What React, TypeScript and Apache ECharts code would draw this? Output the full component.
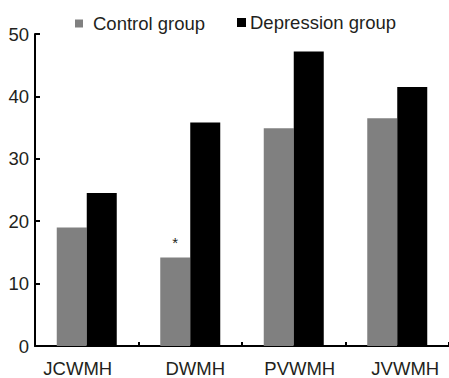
import React, { useEffect, useRef } from "react";
import * as echarts from "echarts";

const categories = ["JCWMH", "DWMH", "PVWMH", "JVWMH"];
const controlValues = [19, 14.2, 34.9, 36.5];
const depressionValues = [24.5, 35.8, 47.2, 41.5];
const yTicks = [0, 10, 20, 30, 40, 50];
const markedIndex = 1;
const labelShift = [-9, 5, 6, 8];

const FONT = "'Liberation Sans', Arial, Helvetica, sans-serif";
const TEXT = "#231f20";

export default function App() {
  const ref = useRef<HTMLDivElement>(null);
  useEffect(() => {
    if (!ref.current) return;
    const chart = echarts.init(ref.current, undefined, { renderer: "svg" });
    chart.setOption({
      animation: false,
      textStyle: { fontFamily: FONT },
      legend: [
        {
          data: [{ name: "Control group", icon: "rect" }],
          left: 75,
          top: 14,
          padding: 0,
          itemWidth: 8,
          itemHeight: 8,
          textStyle: { fontSize: 18.5, color: TEXT, fontFamily: FONT, padding: [0, 0, 0, 5] },
        },
        {
          data: [{ name: "Depression group", icon: "rect" }],
          left: 237,
          top: 13,
          padding: 0,
          itemWidth: 9,
          itemHeight: 9,
          textStyle: { fontSize: 18.5, color: TEXT, fontFamily: FONT, padding: [0, 0, 0, -1] },
        },
      ],
      grid: { left: 35, top: 34, width: 417, height: 314, containLabel: false },
      xAxis: {
        type: "category",
        data: categories.map((c, i) => ({
          value: c,
          textStyle: {
            padding: labelShift[i] < 0 ? [0, -2 * labelShift[i], 0, 0] : [0, 0, 0, 2 * labelShift[i]],
          },
        })),
        boundaryGap: true,
        axisLine: { lineStyle: { color: "#000", width: 2 } },
        axisTick: { show: true, inside: true, length: 4, lineStyle: { color: "#000", width: 2 }, interval: 0 },
        axisLabel: { fontSize: 18.5, color: TEXT, margin: 13, fontFamily: FONT, interval: 0 },
      },
      yAxis: {
        type: "value",
        min: yTicks[0],
        max: yTicks[yTicks.length - 1],
        interval: 10,
        splitLine: { show: false },
        axisLine: { show: true, lineStyle: { color: "#000", width: 2 } },
        axisTick: { show: true, inside: true, length: 5, lineStyle: { color: "#000", width: 2 } },
        axisLabel: { fontSize: 18.5, color: TEXT, margin: 6, fontFamily: FONT },
      },
      series: [
        {
          name: "Control group",
          type: "bar",
          barWidth: 30,
          barGap: "0%",
          itemStyle: { color: "#808080" },
          data: controlValues.map((v, i) =>
            i === markedIndex
              ? {
                  value: v,
                  label: {
                    show: true,
                    position: "top",
                    formatter: "*",
                    fontSize: 15,
                    color: TEXT,
                    distance: 7,
                    fontFamily: FONT,
                  },
                }
              : v
          ),
        },
        {
          name: "Depression group",
          type: "bar",
          barWidth: 30,
          barGap: "0%",
          itemStyle: { color: "#000000" },
          data: depressionValues,
        },
      ],
    });
    return () => chart.dispose();
  }, []);
  return <div ref={ref} style={{ width: 449, height: 378, position: "absolute", left: 0, top: 0 }} />;
}
